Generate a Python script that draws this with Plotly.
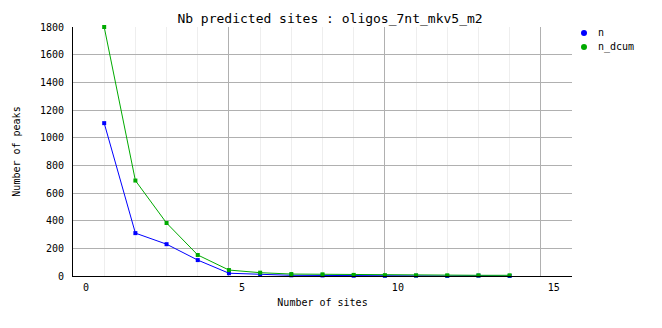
import plotly.graph_objects as go

sites = [1, 2, 3, 4, 5, 6, 7, 8, 9, 10, 11, 12, 13, 14]
n = [1105, 310, 230, 115, 20, 10, 5, 4, 2, 1, 2, 0, 2, 0]
n_dcum = [1800, 690, 383, 152, 43, 24, 14, 12, 8, 6, 5, 5, 5, 5]
series_names = ["n", "n_dcum"]
colors = ["#0000ff", "#00aa00"]
title_text = "Nb predicted sites : oligos_7nt_mkv5_m2"
x_ticks = [0, 5, 10, 15]
y_ticks = [0, 200, 400, 600, 800, 1000, 1200, 1400, 1600, 1800]

FONT = "DejaVu Sans Mono"
W, H = 662, 328
L, R, T, B = 73, 90, 27, 52
PW, PH = W - L - R, H - T - B

fig = go.Figure()
for name, vals, col in zip(series_names, [n, n_dcum], colors):
    fig.add_trace(go.Scatter(x=sites, y=vals, mode="lines+markers", name=name,
                             line=dict(color=col, width=1),
                             marker=dict(color=col, size=4, symbol="square"),
                             showlegend=False, cliponaxis=False))

# legend drawn as marker + text, placed in pixels
def px_x(p):
    return (p - L) / PW

def px_y(p):
    return 1 - (p - T) / PH

shapes = []
annotations = []
for i, (name, col) in enumerate(zip(series_names, colors)):
    yy = 33 + 14 * i
    shapes.append(dict(type="circle", xref="paper", yref="paper",
                       xsizemode="pixel", ysizemode="pixel",
                       xanchor=px_x(584), yanchor=px_y(yy),
                       x0=-3, x1=3, y0=-3, y1=3,
                       fillcolor=col, line=dict(color=col, width=0)))
    annotations.append(dict(text=name, xref="paper", yref="paper",
                            x=px_x(596), y=px_y(yy), xanchor="left", yanchor="middle",
                            showarrow=False, font=dict(family=FONT, size=10, color="black")))

fig.update_layout(
    width=W, height=H,
    margin=dict(l=L, r=R, t=T, b=B, autoexpand=False),
    paper_bgcolor="white", plot_bgcolor="white",
    font=dict(family=FONT, size=10, color="black"),
    showlegend=False,
    shapes=shapes, annotations=annotations,
    title=dict(text=title_text, x=330 / W, xanchor="center", y=1 - 18 / H,
               yanchor="middle", font=dict(family=FONT, size=13, color="black")),
    xaxis=dict(range=[0, 16], tickvals=x_ticks, showgrid=True, gridcolor="#b0b0b0",
               gridwidth=1, showline=True, linecolor="black", linewidth=1,
               zeroline=False, ticks="", ticklabelshift=13, ticklabelstandoff=2,
               minor=dict(dtick=1, tick0=0, showgrid=True, gridcolor="#eeeeee", gridwidth=1),
               title=dict(text="Number of sites", standoff=6, font=dict(size=10))),
    yaxis=dict(range=[0, 1800], tickvals=y_ticks, showgrid=True, gridcolor="#b0b0b0",
               gridwidth=1, showline=True, linecolor="black", linewidth=1,
               zeroline=False, ticks="", ticklabelstandoff=6,
               title=dict(text="Number of peaks", standoff=17, font=dict(size=10))),
)
fig.write_html("out.html")
